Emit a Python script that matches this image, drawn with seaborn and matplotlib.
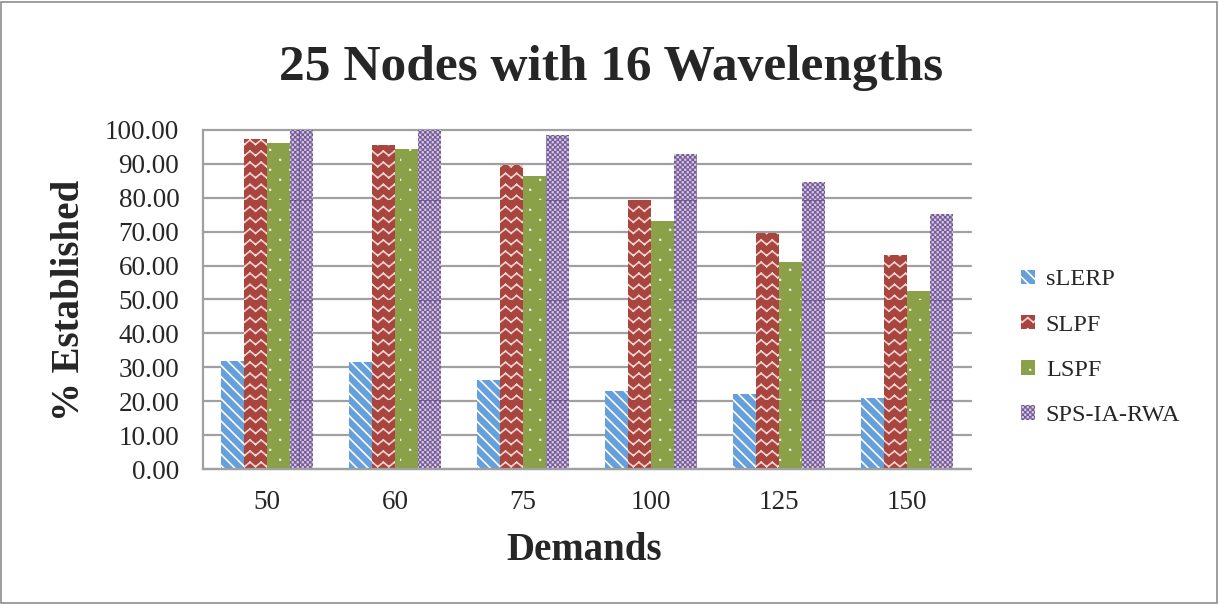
import warnings
import numpy as np
import pandas as pd
import matplotlib.pyplot as plt
import seaborn as sns
from matplotlib import hatch as mhatch
from matplotlib.path import Path
from matplotlib.patches import Rectangle, Patch

warnings.filterwarnings("ignore")

# Values
demands = ["50", "60", "75", "100", "125", "150"]
slerp = [31.9, 31.5, 26.2, 23.1, 22.1, 20.9]
slpf = [97.3, 95.6, 89.7, 79.2, 69.7, 63.0]
lspf = [96.1, 94.4, 86.4, 73.2, 61.0, 52.5]
sps_ia_rwa = [100.0, 100.0, 98.5, 92.9, 84.7, 75.1]

methods = ["sLERP", "SLPF", "LSPF", "SPS-IA-RWA"]
colors = ["#66A0DC", "#A8453F", "#8AA14A", "#765A98"]
hatch_colors = ["#FFFFFF", "#F4D2D0", "#FFFFFF", "#DCD3E8"]
hatches = ["\\\\\\", "z", "d", "c"]


# Excel-like fill patterns that matplotlib does not ship: zigzag, checker, dots
class ZigZagHatch(mhatch.HatchPatternBase):
    def __init__(self, hatch, density):
        self.rows = 9 * hatch.count("z")
        self.num_vertices = self.rows * self.rows * 2 * 2

    def set_vertices_and_codes(self, vertices, codes):
        n = self.rows
        xs = np.linspace(0, 1, 2 * n + 1)
        amp = 0.4 / n
        i = 0
        for r in range(n):
            ys = r / n + amp * (np.arange(2 * n + 1) % 2)
            for k in range(2 * n):
                vertices[i] = (xs[k], ys[k])
                vertices[i + 1] = (xs[k + 1], ys[k + 1])
                codes[i] = Path.MOVETO
                codes[i + 1] = Path.LINETO
                i += 2


class SquareGridHatch(mhatch.HatchPatternBase):
    char = "c"
    per_unit = 20
    side = 0.005

    def __init__(self, hatch, density):
        self.on = hatch.count(self.char) > 0
        self.num_vertices = 2 * self.per_unit ** 2 * 5 if self.on else 0

    def set_vertices_and_codes(self, vertices, codes):
        n = self.per_unit
        s = self.side
        i = 0
        for a in range(n):
            for b in range(n):
                for off in (0.0, 0.5):
                    x0 = (a + off) / n
                    y0 = (b + off) / n
                    vertices[i:i + 5] = [(x0, y0), (x0 + s, y0), (x0 + s, y0 + s),
                                         (x0, y0 + s), (x0, y0)]
                    codes[i:i + 5] = [Path.MOVETO, Path.LINETO, Path.LINETO,
                                      Path.LINETO, Path.CLOSEPOLY]
                    i += 5


class DotHatch(SquareGridHatch):
    char = "d"
    per_unit = 5
    side = 0.004


mhatch._hatch_types.extend([ZigZagHatch, SquareGridHatch, DotHatch])

df = pd.DataFrame({"Demands": demands, "sLERP": slerp, "SLPF": slpf,
                   "LSPF": lspf, "SPS-IA-RWA": sps_ia_rwa})
long_df = df.melt(id_vars="Demands", var_name="Method", value_name="Established")

sns.set_style("white")
plt.rcParams["font.family"] = ["Liberation Serif", "DejaVu Serif"]
plt.rcParams["hatch.linewidth"] = 1.2

fig = plt.figure(figsize=(12.19, 6.04), dpi=100)
ax = fig.add_axes([0.1665, 0.2235, 0.63, 0.5613])

sns.barplot(data=long_df, x="Demands", y="Established", hue="Method",
            hue_order=methods, palette=colors, width=0.72, gap=0,
            saturation=1, ax=ax, legend=False)

for cont, h, hc in zip(ax.containers, hatches, hatch_colors):
    for bar in cont:
        bar.set_hatch(h)
        bar.set_edgecolor(hc)
        bar.set_linewidth(0)

ax.set_ylim(0, 100)
ax.set_yticks(range(0, 101, 10))
ax.set_yticklabels([f"{v:.2f}" for v in range(0, 101, 10)], fontsize=19.5)
ax.set_xticks(range(len(demands)))
ax.set_xticklabels(demands, fontsize=19.5)
ax.tick_params(axis="x", length=0, pad=15)
ax.tick_params(axis="y", length=6, width=1.3, color="#A0A0A0", pad=11, direction="out")
ax.yaxis.grid(True, color="#A0A0A0", linewidth=1.6)
for line in ax.get_ygridlines():
    line.set_clip_on(False)
ax.set_axisbelow(True)
for s in ["top", "right"]:
    ax.spines[s].set_visible(False)
for s in ["left", "bottom"]:
    ax.spines[s].set_color("#A0A0A0")
    ax.spines[s].set_linewidth(1.6)
ax.set_xlabel("")
ax.set_ylabel("")

fig.text(0.4795, 0.089, "Demands", fontsize=28, fontweight="bold", ha="center", va="center")
fig.text(0.0574, 0.503, "% Established", fontsize=28, fontweight="bold",
         ha="center", va="center", rotation=90)
fig.text(0.5016, 0.887, "25 Nodes with 16 Wavelengths", fontsize=37,
         fontweight="bold", ha="center", va="center")

handles = [Patch(facecolor=c, hatch=h, edgecolor=hc, linewidth=0)
           for c, h, hc in zip(colors, hatches, hatch_colors)]
fig.legend(handles, methods, loc="center left", bbox_to_anchor=(0.828, 0.424),
           frameon=False, fontsize=17.5, handlelength=0.55, handleheight=0.55,
           labelspacing=1.0, handletextpad=0.45, borderpad=0)

fig.patches.append(Rectangle((0.001, 0.002), 0.997, 0.995, transform=fig.transFigure,
                             fill=False, edgecolor="#8E8E8E", linewidth=1.2))

fig.savefig("out.png", dpi=100)
